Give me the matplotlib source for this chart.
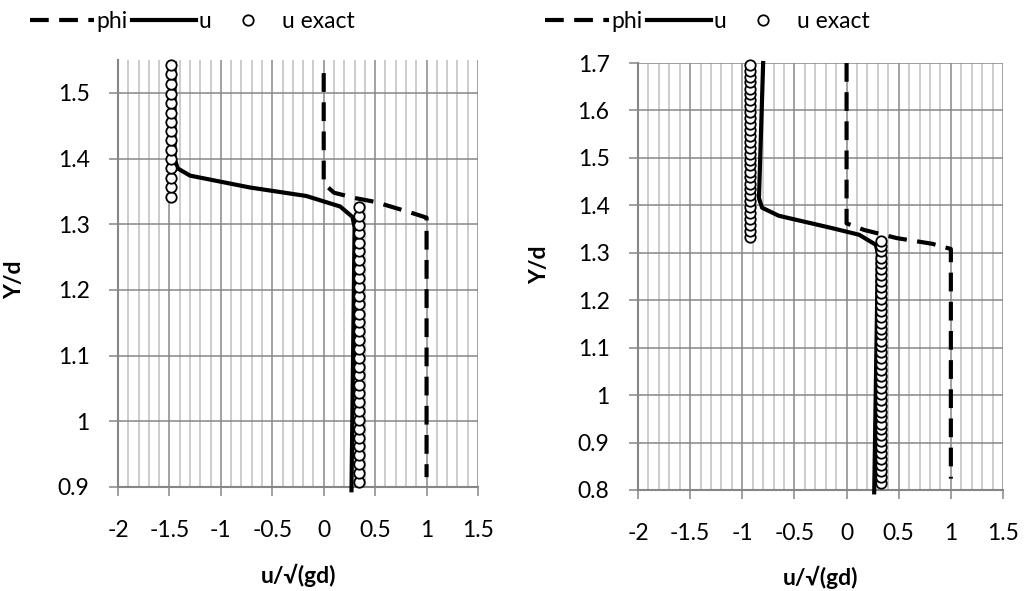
import matplotlib
matplotlib.use('Agg')
import matplotlib.pyplot as plt
from matplotlib.ticker import MultipleLocator

plt.rcParams['font.family'] = ['Lato', 'DejaVu Sans']

# left panel
phi_l_x = [0, 0, 0.1, 0.3, 0.5, 0.8, 1.0, 1.0]
phi_l_y = [1.53, 1.362, 1.348, 1.340, 1.334, 1.320, 1.310, 0.915]
u_l_x = [-1.45, -1.45, -1.42, -1.30, -0.72, -0.17, 0.16, 0.28, 0.30, 0.27]
u_l_y = [1.545, 1.40, 1.385, 1.374, 1.356, 1.343, 1.327, 1.311, 1.295, 0.895]
ex_l_top_y = [1.342, 1.356, 1.371, 1.385, 1.399, 1.413, 1.428, 1.442, 1.456, 1.470,
              1.485, 1.499, 1.513, 1.528, 1.542]
ex_l_top_x = [-1.48] * len(ex_l_top_y)
ex_l_bot_y = [0.908, 0.921, 0.935, 0.948, 0.962, 0.975, 0.989, 1.002, 1.016, 1.029,
              1.043, 1.056, 1.070, 1.083, 1.097, 1.110, 1.124, 1.137, 1.151, 1.164,
              1.178, 1.191, 1.205, 1.218, 1.232, 1.245, 1.259, 1.272, 1.286, 1.299,
              1.313, 1.326]
ex_l_bot_x = [0.34] * len(ex_l_bot_y)

# right panel
phi_r_x = [0, 0, 0.17, 0.48, 0.82, 1.0, 1.0]
phi_r_y = [1.70, 1.362, 1.348, 1.331, 1.319, 1.308, 0.824]
u_r_x = [-0.80, -0.84, -0.81, -0.65, -0.14, 0.12, 0.28, 0.30, 0.265]
u_r_y = [1.70, 1.415, 1.395, 1.378, 1.352, 1.338, 1.317, 1.30, 0.795]
ex_r_top_y = [1.334, 1.346, 1.359, 1.371, 1.384, 1.396, 1.409, 1.421, 1.434, 1.446,
              1.459, 1.471, 1.484, 1.496, 1.509, 1.521, 1.534, 1.546, 1.559, 1.571,
              1.584, 1.596, 1.609, 1.621, 1.634, 1.646, 1.659, 1.671, 1.684, 1.696]
ex_r_top_x = [-0.925] * len(ex_r_top_y)
ex_r_bot_y = [0.815, 0.828, 0.840, 0.853, 0.865, 0.878, 0.890, 0.903, 0.915, 0.928,
              0.940, 0.953, 0.965, 0.978, 0.990, 1.003, 1.015, 1.028, 1.040, 1.053,
              1.065, 1.078, 1.090, 1.103, 1.115, 1.128, 1.140, 1.153, 1.165, 1.178,
              1.190, 1.203, 1.215, 1.228, 1.240, 1.253, 1.265, 1.278, 1.290, 1.303,
              1.315, 1.325]
ex_r_bot_x = [0.33] * len(ex_r_bot_y)

x_ticks = [-2, -1.5, -1, -0.5, 0, 0.5, 1, 1.5]
x_labels = ['-2', '-1.5', '-1', '-0.5', '0', '0.5', '1', '1.5']

W, H = 1025, 591
FS = 16.5
fig = plt.figure(figsize=(W / 100, H / 100), dpi=100)


def panel(rect, phi_x, phi_y, u_x, u_y, ex, ylim, yticks, ylabels):
    ax = fig.add_axes(rect)
    ax.set_xlim(-2, 1.5)
    ax.set_ylim(*ylim)
    ax.xaxis.set_minor_locator(MultipleLocator(0.1))
    ax.set_xticks(x_ticks)
    ax.set_xticklabels(x_labels)
    ax.set_yticks(yticks)
    ax.set_yticklabels(ylabels)
    ax.grid(which='minor', axis='x', color='#bfbfbf', lw=1.1, zorder=0)
    ax.grid(which='major', axis='both', color='#878787', lw=1.1, zorder=0)
    ax.set_axisbelow(True)
    for s in ['top', 'right']:
        ax.spines[s].set_visible(False)
    for s in ['left', 'bottom']:
        ax.spines[s].set_color('#868686')
        ax.spines[s].set_linewidth(1.5)
    ax.tick_params(which='major', length=6.5, width=1.1, color='#868686',
                   labelsize=FS, pad=14)
    ax.tick_params(axis='x', pad=17)
    ax.tick_params(which='minor', length=0)

    l1, = ax.plot(phi_x, phi_y, color='black', lw=3, dashes=(4.5, 2.5), label='phi', zorder=3)
    l2, = ax.plot(u_x, u_y, color='black', lw=3, label='u', zorder=4, clip_on=False)
    l3 = None
    for xs, ys in ex:
        l3, = ax.plot(xs, ys, ls='none', marker='o', ms=7.5, mfc='white', mec='black',
                      mew=1.3, label='u exact', zorder=5, clip_on=False)
    return ax, [l1, l2, l3]


ax1, h1 = panel([118 / W, 1 - 487 / H, 360 / W, 427 / H], phi_l_x, phi_l_y, u_l_x, u_l_y,
                [(ex_l_top_x, ex_l_top_y), (ex_l_bot_x, ex_l_bot_y)],
                (0.9, 1.55), [0.9, 1.0, 1.1, 1.2, 1.3, 1.4, 1.5],
                ['0.9', '1', '1.1', '1.2', '1.3', '1.4', '1.5'])
ax2, h2 = panel([638 / W, 1 - 490 / H, 365 / W, 427 / H], phi_r_x, phi_r_y, u_r_x, u_r_y,
                [(ex_r_top_x, ex_r_top_y), (ex_r_bot_x, ex_r_bot_y)],
                (0.8, 1.7), [0.8, 0.9, 1.0, 1.1, 1.2, 1.3, 1.4, 1.5, 1.6, 1.7],
                ['0.8', '0.9', '1', '1.1', '1.2', '1.3', '1.4', '1.5', '1.6', '1.7'])

for handles, x0 in [(h1, 30), (h2, 545)]:
    fig.legend(handles, ['phi', 'u', 'u exact'], loc='center left',
               bbox_to_anchor=(x0 / W, 1 - 22 / H), ncol=3, frameon=False,
               fontsize=FS, handlelength=2.8, handletextpad=0.1,
               columnspacing=0.2, borderaxespad=0, borderpad=0)

fig.text(298 / W, 1 - 575 / H, 'u/\u221a(gd)', ha='center', va='center',
         fontsize=FS, fontweight='bold')
fig.text(820 / W, 1 - 577 / H, 'u/\u221a(gd)', ha='center', va='center',
         fontsize=FS, fontweight='bold')
fig.text(15 / W, 1 - 280 / H, 'Y/d', ha='center', va='center', rotation=90,
         fontsize=FS, fontweight='bold')
fig.text(540 / W, 1 - 265 / H, 'Y/d', ha='center', va='center', rotation=90,
         fontsize=FS, fontweight='bold')

fig.savefig('out.png', dpi=100)
